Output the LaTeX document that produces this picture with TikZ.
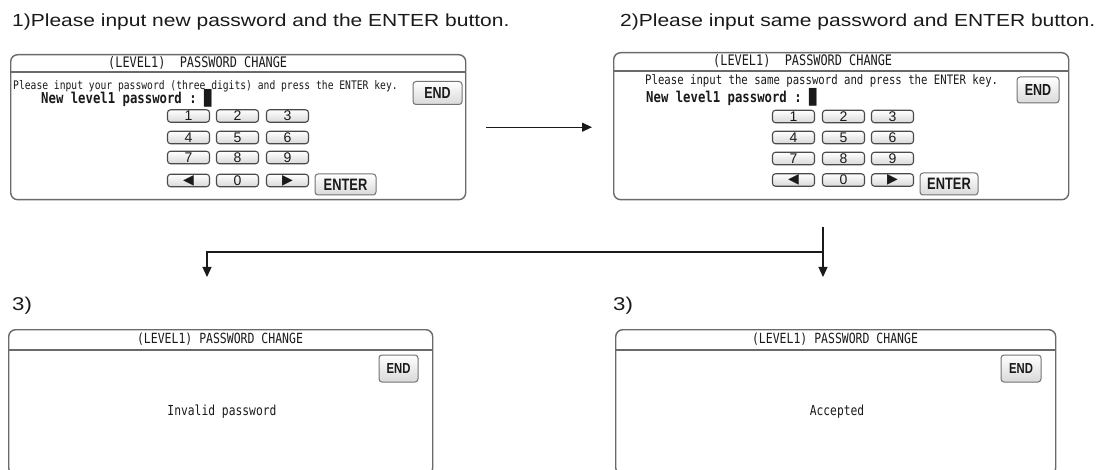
\documentclass[tikz,border=0pt]{standalone}
\usepackage{fontspec}
\setmainfont{Liberation Sans}
\newfontfamily\headfont[FakeStretch=1.2]{Liberation Sans}
\newfontfamily\lcd[FakeStretch=0.82]{DejaVu Sans Mono}
\newfontfamily\btnfont[FakeStretch=0.78]{Liberation Sans}
\newfontfamily\symfont{DejaVu Sans}
\usetikzlibrary{arrows.meta}
\definecolor{framegray}{HTML}{6A6A6A}
\definecolor{keygray}{HTML}{4A4A4A}
\definecolor{ink}{HTML}{1A1A1A}
\tikzset{
  screen/.style={draw=framegray, line width=1.4pt, rounded corners=7pt,
    anchor=north west, inner sep=0pt, fill=white},
  barline/.style={draw=framegray, line width=1.1pt},
  heading/.style={font=\headfont\fontsize{17.5}{20}\selectfont, text=ink,
    anchor=base west, inner sep=0pt},
  title/.style={font=\lcd\fontsize{14.5}{16}\selectfont, text=ink, inner sep=0pt},
  smalltitle/.style={font=\lcd\fontsize{14}{16}\selectfont, text=ink, inner sep=0pt},
  prompt/.style={text=ink, inner sep=0pt, anchor=west},
  keybox/.style={draw=keygray, line width=1.1pt, rounded corners=3pt,
    top color=white, bottom color=black!15, minimum width=42pt,
    minimum height=12.5pt, inner sep=0pt, font=\fontsize{14}{14}\selectfont, text=ink},
  btn/.style={draw=black!55, line width=1pt, rounded corners=3pt,
    top color=white, bottom color=black!15, inner sep=0pt,
    font=\btnfont\bfseries, text=ink},
  flow/.style={draw=ink, line width=1.1pt, -{Triangle[length=10pt,width=9pt]}},
}
% numeric keypad: prefix, three column x positions, four row y positions
\newcommand\keypad[8]{%
  \foreach \lab/\px/\py [count=\k] in {1/#2/#5,2/#3/#5,3/#4/#5,
      4/#2/#6,5/#3/#6,6/#4/#6,7/#2/#7,8/#3/#7,9/#4/#7,
      {\symfont\fontsize{14}{14}\selectfont ◀}/#2/#8,0/#3/#8,
      {\symfont\fontsize{14}{14}\selectfont ▶}/#4/#8}
    \node[keybox] (#1k\k) at (\px,\py) {\lab};%
}
\begin{document}
\begin{tikzpicture}[x=1pt,y=-1pt]
\clip (0,0) rectangle (1100,470);
\fill[white] (0,0) rectangle (1100,470);

% step headings
\node[heading] (h1) at (12,27) {1)Please input new password and the ENTER button.};
\node[heading] (h2) at (620,27) {2)Please input same password and ENTER button.};

% screen 1: first entry
\node[screen, minimum width=455pt, minimum height=145pt] (s1) at (10,54) {};
\draw[barline] ([yshift=-18pt]s1.north west) -- ([yshift=-18pt]s1.north east);
\node[title, anchor=west] (t1) at (108,63) {(LEVEL1)~~PASSWORD CHANGE};
\node[prompt, font=\lcd\fontsize{11.8}{13}\selectfont] (p1) at (13,86)
  {Please input your password (three digits) and press the ENTER key.};
\node[prompt, font=\lcd\bfseries\fontsize{15}{16}\selectfont] (n1) at (41,98)
  {New level1 password :~█};
\node[btn, minimum width=49pt, minimum height=23pt, font=\btnfont\bfseries\fontsize{16}{16}\selectfont] (e1) at (437.5,93) {END};
\keypad{s1}{188.5}{237.5}{287.5}{116}{137.5}{157.5}{180.5}
\node[btn, minimum width=61pt, minimum height=21pt, font=\btnfont\bfseries\fontsize{16.5}{16}\selectfont] (en1) at (345.5,184.5) {ENTER};

% screen 2: confirmation entry
\node[screen, minimum width=455pt, minimum height=147pt] (s2) at (613,52) {};
\draw[barline] ([yshift=-19pt]s2.north west) -- ([yshift=-19pt]s2.north east);
\node[title, anchor=west] (t2) at (713,61) {(LEVEL1)~~PASSWORD CHANGE};
\node[prompt, font=\lcd\fontsize{13}{14}\selectfont] (p2) at (645,81)
  {Please input the same password and press the ENTER key.};
\node[prompt, font=\lcd\bfseries\fontsize{15}{16}\selectfont] (n2) at (646,97)
  {New level1 password :~█};
\node[btn, minimum width=42pt, minimum height=26pt, font=\btnfont\bfseries\fontsize{16}{16}\selectfont] (e2) at (1038,90) {END};
\keypad{s2}{793.5}{843.5}{892.5}{116.5}{137.5}{158.5}{180}
\node[btn, minimum width=58pt, minimum height=22pt, font=\btnfont\bfseries\fontsize{16.5}{16}\selectfont] (en2) at (949,184) {ENTER};

% step 1 -> step 2
\draw[flow, shorten <=20pt, shorten >=21pt] (s1.east) -- (s1.east -| s2.west);

% branch to the two results
\coordinate (branchtop) at (823,227);
\coordinate (split) at (823,252);
\coordinate (lefttip) at (207,277);
\coordinate (righttip) at (823,277);
\draw[flow] (branchtop) -- (righttip);
\draw[flow] (split) -| (lefttip);

\node[heading, font=\headfont\fontsize{18.5}{20}\selectfont] (l3) at (12,310) {3)};
\node[heading, font=\headfont\fontsize{18.5}{20}\selectfont] (l4) at (613,310) {3)};

% screen 3: rejected
\node[screen, minimum width=424pt, minimum height=145pt] (s3) at (8,329) {};
\draw[barline] ([yshift=-21pt]s3.north west) -- ([yshift=-21pt]s3.north east);
\node[smalltitle] (t3) at (220,339.5) {(LEVEL1) PASSWORD CHANGE};
\node[btn, minimum width=39pt, minimum height=27pt, font=\btnfont\bfseries\fontsize{14.5}{15}\selectfont] (e3) at (398.5,368.5) {END};
\node[font=\lcd\fontsize{13.8}{15}\selectfont, text=ink, inner sep=0pt] (m3) at (222,412) {Invalid password};

% screen 4: accepted
\node[screen, minimum width=440pt, minimum height=145pt] (s4) at (615,329) {};
\draw[barline] ([yshift=-21pt]s4.north west) -- ([yshift=-21pt]s4.north east);
\node[smalltitle] (t4) at (835,339.5) {(LEVEL1) PASSWORD CHANGE};
\node[btn, minimum width=40pt, minimum height=27pt, font=\btnfont\bfseries\fontsize{14.5}{15}\selectfont] (e4) at (1021,368.5) {END};
\node[font=\lcd\fontsize{13.8}{15}\selectfont, text=ink, inner sep=0pt] (m4) at (837,412) {Accepted};
\end{tikzpicture}
\end{document}
